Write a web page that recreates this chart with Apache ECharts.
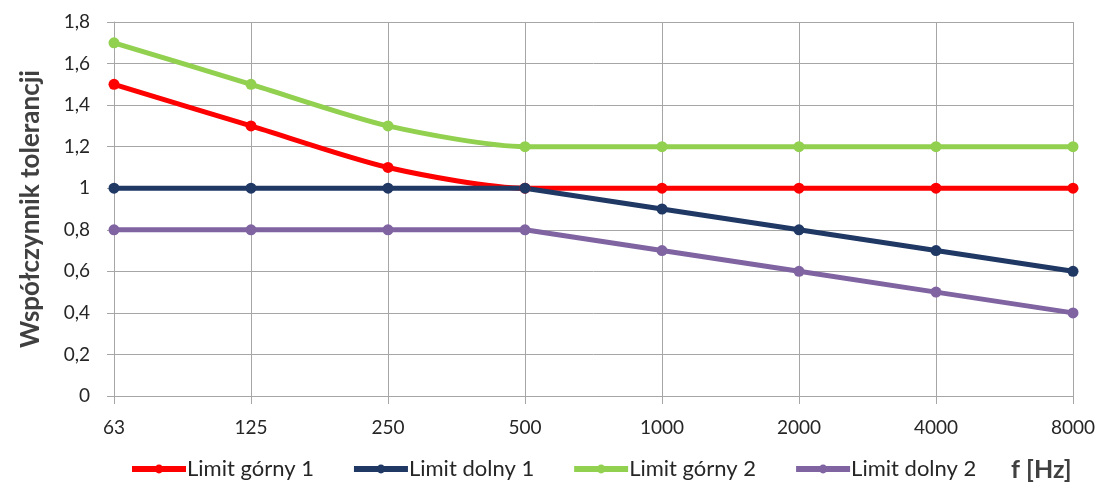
<!DOCTYPE html>
<html>
<head>
<meta charset="utf-8">
<script src="https://cdn.jsdelivr.net/npm/echarts@6/dist/echarts.min.js"></script>
<style>
html,body{margin:0;padding:0;background:#fff;}
#main{width:1108px;height:493px;}
</style>
</head>
<body>
<div id="main"></div>
<script>
const categories = ['63','125','250','500','1000','2000','4000','8000'];
const limitGorny1 = [1.5, 1.3, 1.1, 1, 1, 1, 1, 1];
const limitDolny1 = [1, 1, 1, 1, 0.9, 0.8, 0.7, 0.6];
const limitGorny2 = [1.7, 1.5, 1.3, 1.2, 1.2, 1.2, 1.2, 1.2];
const limitDolny2 = [0.8, 0.8, 0.8, 0.8, 0.7, 0.6, 0.5, 0.4];
const seriesNames = ['Limit górny 1', 'Limit dolny 1', 'Limit górny 2', 'Limit dolny 2'];
const colors = ['#FF0000', '#1F3864', '#92D050', '#8064A2'];
const smoothFlags = [0.25, false, 0.25, false];

const FONT = 'Lato, "Open Sans", sans-serif';
const chart = echarts.init(document.getElementById('main'));
const datasets = [limitGorny1, limitDolny1, limitGorny2, limitDolny2];

chart.setOption({
  animation: false,
  backgroundColor: '#fff',
  color: colors,
  title: {
    text: 'f [Hz]',
    left: 1006,
    top: 452,
    textStyle: { fontFamily: FONT, fontSize: 25, fontWeight: 'bold', color: '#404040' }
  },
  grid: { left: 114, right: 35, top: 22, bottom: 97 },
  legend: {
    bottom: 8,
    left: 124,
    itemWidth: 54,
    itemHeight: 11,
    itemGap: 37,
    lineStyle: { width: 6 },
    textStyle: { fontFamily: FONT, fontSize: 22, color: '#262626', padding: [0, 0, 0, -4] },
    data: seriesNames
  },
  xAxis: {
    type: 'category',
    data: categories,
    boundaryGap: false,
    axisLine: { lineStyle: { color: '#A6A6A6', width: 1 } },
    axisTick: { show: true, length: 8, lineStyle: { color: '#A6A6A6' } },
    axisLabel: { fontFamily: FONT, fontSize: 19, color: '#262626', margin: 22 },
    splitLine: { show: true, lineStyle: { color: '#A6A6A6', width: 1 } }
  },
  yAxis: {
    type: 'value',
    min: 0,
    max: 1.8,
    interval: 0.2,
    name: 'Współczynnik tolerancji',
    nameLocation: 'middle',
    nameGap: 70,
    nameTextStyle: { fontFamily: FONT, fontSize: 26, fontWeight: 'bold', color: '#404040' },
    axisLine: { show: true, lineStyle: { color: '#A6A6A6', width: 1 } },
    axisTick: { show: true, length: 7, lineStyle: { color: '#A6A6A6' } },
    axisLabel: {
      fontFamily: FONT, fontSize: 19, color: '#262626', margin: 24,
      formatter: v => (Math.round(v * 10) / 10).toString().replace('.', ',')
    },
    splitLine: { show: true, lineStyle: { color: '#A6A6A6', width: 1 } }
  },
  series: seriesNames.map((name, i) => ({
    name: name,
    type: 'line',
    data: datasets[i],
    smooth: smoothFlags[i],
    symbol: 'circle',
    symbolSize: 11,
    lineStyle: { width: 5, color: colors[i] },
    itemStyle: { color: colors[i] }
  }))
});
</script>
</body>
</html>
